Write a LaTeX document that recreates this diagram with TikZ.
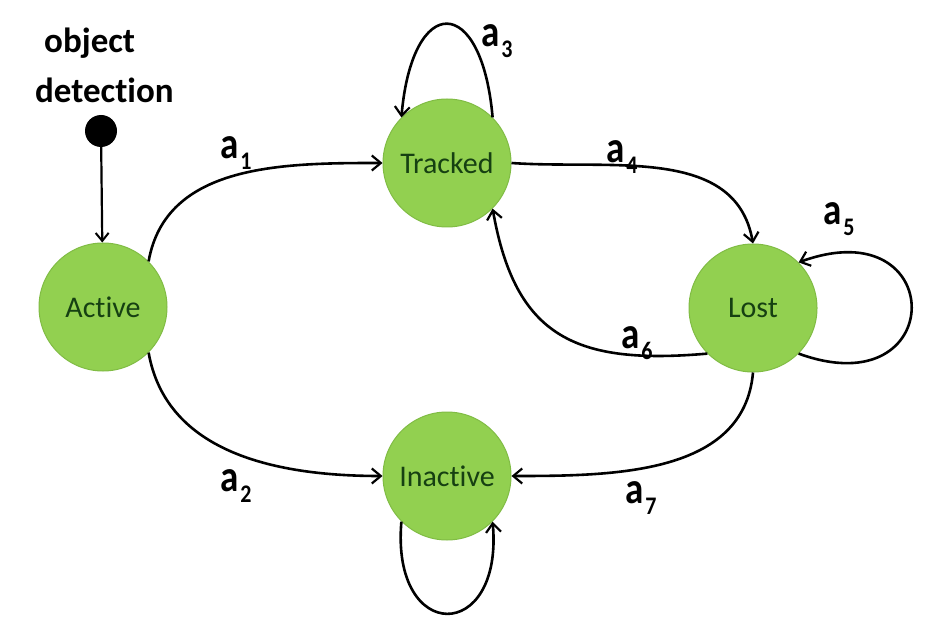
\documentclass[tikz,border=0pt]{standalone}
\usepackage{fontspec}
\setmainfont{Carlito}[RawFeature={-liga;-clig;-calt;-dlig}]
\usetikzlibrary{arrows.meta}
\definecolor{stategreen}{RGB}{146,208,80}
\definecolor{stateborder}{RGB}{128,188,68}
\definecolor{statetext}{RGB}{22,64,18}
\newcommand\alabel[1]{{\bfseries\fontsize{37}{37}\selectfont\scalebox{1}[1.2]{a}}\kern2pt\raisebox{-11pt}{\bfseries\fontsize{22}{22}\selectfont\scalebox{1}[1.15]{#1}}}
\tikzset{
  state/.style={circle,fill=stategreen,draw=stateborder,line width=1pt,minimum size=128pt,inner sep=0pt,text=statetext,font=\fontsize{30}{30}\selectfont},
  edge/.style={line width=2.6pt,-{Straight Barb[length=9pt,width=15pt,line width=2.2pt]}},
  lbl/.style={inner sep=0pt,anchor=base west},
  caption/.style={inner sep=0pt,anchor=base west,font=\bfseries\fontsize{35}{35}\selectfont},
}
\begin{document}
\begin{tikzpicture}[x=1pt,y=1pt]
\useasboundingbox (0,0) rectangle (952,-636);
\fill[white] (0,0) rectangle (952,-636);
% caption
\node[caption] (cap1) at (44,-53) {object};
\node[caption] (cap2) at (35,-103) {detect\kern0pt ion};
% states
\node[state] (act) at (103,-307) {Act\kern0pt ive};
\node[state] (trk) at (447,-163) {Tracked};
\node[state] (lost) at (753,-308) {Lost};
\node[state] (ina) at (447,-476) {Inact\kern0pt ive};
\node[circle,fill=black,minimum size=32pt,inner sep=0pt] (dot) at (101,-131) {};
% edges
\draw[line width=2.2pt,-{Straight Barb[length=8pt,width=13pt,line width=2pt]}] (dot) -- (act);
\draw[edge] (act.45) to[out=80,in=180] (trk.west);
\draw[edge] (act.-45) to[out=-80,in=180] (ina.west);
\draw[edge] (trk.45) .. controls +(95:125) and +(85:125) .. (trk.135);
\draw[edge] (trk.east) to[out=-4,in=100] (lost.north);
\draw[edge] (lost.-45) .. controls +(-20:160) and +(20:160) .. (lost.45);
\draw[edge] (lost.225) to[out=185,in=-80,looseness=1.3] (trk.-45);
\draw[edge] (lost.south) to[out=-95,in=0] (ina.east);
\draw[edge] (ina.225) .. controls +(-95:123) and +(-85:123) .. (ina.-45);
% labels
\node[lbl] (l1) at (220,-159) {\alabel{1}};
\node[lbl] (l2) at (220,-491) {\alabel{2}};
\node[lbl] (l3) at (481,-47) {\alabel{3}};
\node[lbl] (l4) at (606,-163) {\alabel{4}};
\node[lbl] (l5) at (823,-225) {\alabel{5}};
\node[lbl] (l6) at (621,-348) {\alabel{6}};
\node[lbl] (l7) at (625,-503) {\alabel{7}};
\end{tikzpicture}
\end{document}
